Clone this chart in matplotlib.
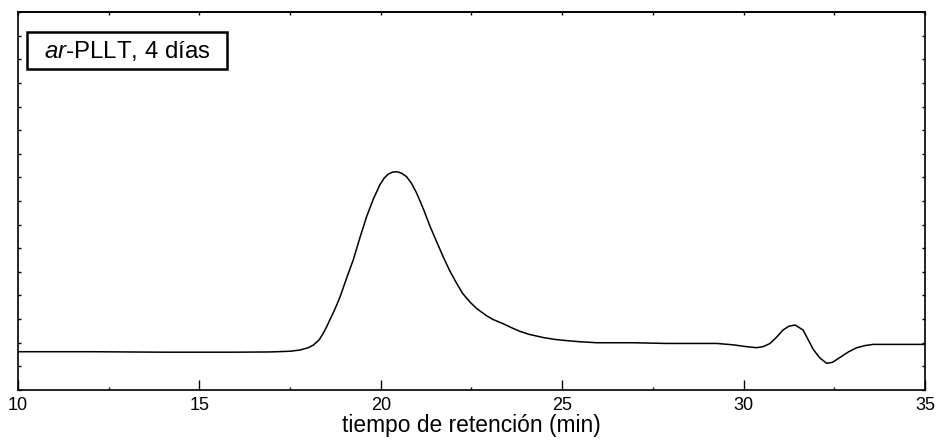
import matplotlib
matplotlib.use("Agg")
import matplotlib.pyplot as plt
from matplotlib.patches import Rectangle
from matplotlib.ticker import MultipleLocator, NullFormatter

plt.rcParams["font.family"] = ["Liberation Sans", "DejaVu Sans"]
plt.rcParams["mathtext.fontset"] = "custom"
plt.rcParams["mathtext.rm"] = "Liberation Sans"
plt.rcParams["mathtext.it"] = "Liberation Sans:italic"

# retention time (min) and detector signal (arbitrary units)
time_min = [10, 12, 14, 16, 16.95, 17.5, 17.77, 18.0, 18.14, 18.3, 18.4, 18.51,
            18.6, 18.7, 18.8, 18.88, 19.05, 19.24, 19.42, 19.61, 19.8, 19.98,
            20.1, 20.21, 20.32, 20.44, 20.57, 20.71, 20.85, 20.99, 21.18, 21.36,
            21.55, 21.72, 21.9, 22.09, 22.25, 22.46, 22.65, 22.92, 23.1, 23.38,
            23.6, 23.84, 24.1, 24.48, 24.8, 25.12, 25.5, 25.95, 26.95, 27.88,
            28.81, 29.26, 29.72, 30.1, 30.36, 30.55, 30.73, 30.9, 31.09, 31.25,
            31.42, 31.64, 31.92, 32.1, 32.29, 32.45, 32.66, 32.9, 33.12, 33.35,
            33.57, 34.31, 35]
signal = [1.62, 1.62, 1.60, 1.60, 1.61, 1.64, 1.69, 1.79, 1.90, 2.12, 2.36, 2.68,
          2.98, 3.30, 3.65, 3.95, 4.70, 5.50, 6.42, 7.34, 8.10, 8.70,
          8.98, 9.14, 9.22, 9.24, 9.18, 9.03, 8.74, 8.33, 7.64, 6.92,
          6.24, 5.64, 5.05, 4.52, 4.10, 3.72, 3.44, 3.14, 2.98, 2.80,
          2.64, 2.48, 2.35, 2.22, 2.14, 2.09, 2.04, 2.00, 2.00, 1.97,
          1.97, 1.97, 1.91, 1.83, 1.79, 1.84, 1.97, 2.22, 2.54, 2.70,
          2.75, 2.54, 1.72, 1.36, 1.13, 1.17, 1.38, 1.62, 1.79, 1.88,
          1.93, 1.93, 1.93]

sample_label = r"$\it{ar}$-PLLT, 4 días"
xlabel = "tiempo de retención (min)"

fig = plt.figure(figsize=(9.36, 4.48), dpi=100)
ax = fig.add_axes([0.0192, 0.1295, 0.9690, 0.8437])

ax.plot(time_min, signal, color="black", lw=1.1)

ax.set_xlim(10, 35)
ax.set_ylim(0, 16)

ax.xaxis.set_major_locator(MultipleLocator(5))
ax.xaxis.set_minor_locator(MultipleLocator(2.5))
ax.yaxis.set_major_locator(MultipleLocator(1))
ax.yaxis.set_major_formatter(NullFormatter())
ax.tick_params(axis="x", which="major", direction="in", length=7, width=1,
               labelsize=13, pad=5, top=False)
ax.tick_params(axis="x", which="minor", direction="in", length=2, width=1, top=False)
ax.tick_params(axis="y", which="major", direction="in", length=2, width=1,
               left=True, right=True)

top = ax.secondary_xaxis("top")
top.xaxis.set_major_locator(MultipleLocator(2.5))
top.xaxis.set_major_formatter(NullFormatter())
top.tick_params(direction="in", length=2, width=1)
top.spines["top"].set_linewidth(1.2)

for sp in ax.spines.values():
    sp.set_linewidth(1.2)

ax.set_xlabel(xlabel, fontsize=16.4, labelpad=0)

# label box
ax.add_patch(Rectangle((0.0099, 0.849), 0.2205, 0.0979, transform=ax.transAxes,
                       fc="white", ec="black", lw=1.8, zorder=3))
ax.text(0.1202, 0.897, sample_label, transform=ax.transAxes, fontsize=17.3,
        ha="center", va="center", zorder=4)

fig.savefig("out.png", dpi=100)
